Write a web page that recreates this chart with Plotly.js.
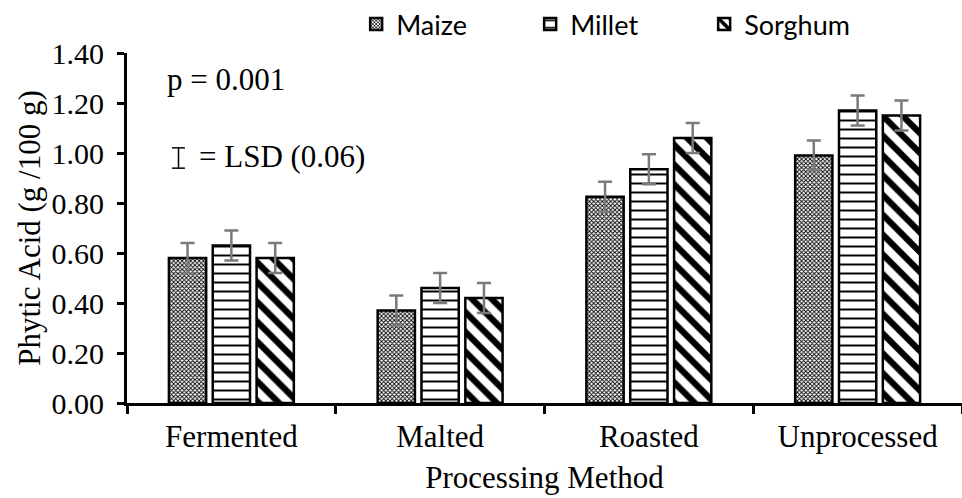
<!DOCTYPE html>
<html><head><meta charset="utf-8">
<script src="https://cdn.plot.ly/plotly-3.0.1.min.js"></script>
<style>html,body{margin:0;padding:0;background:#fff}</style>
</head><body>
<div id="chart" style="width:962px;height:498px"></div>
<script>
const categories = ["Fermented", "Malted", "Roasted", "Unprocessed"];
const maize = [0.58, 0.37, 0.825, 0.99];
const millet = [0.63, 0.46, 0.935, 1.17];
const sorghum = [0.58, 0.42, 1.06, 1.15];
const lsd = 0.06;
const seriesNames = ["Maize", "Millet", "Sorghum"];
const yTicks = [0, 0.2, 0.4, 0.6, 0.8, 1.0, 1.2, 1.4];

function mk(name, vals, shape, size, solidity) {
  return {
    type: "bar", name: name, x: categories, y: vals,
    marker: {color: "#ffffff", line: {color: "#000", width: 2.5},
      pattern: {shape: shape, fgcolor: "#000", bgcolor: "#fff", size: size, solidity: solidity, fillmode: "replace"}},
    error_y: {type: "constant", value: lsd, color: "#7a7a7a", thickness: 2.5, width: 7}
  };
}
const data = [
  mk(seriesNames[0], maize, "x", 3, 0.5),
  mk(seriesNames[1], millet, "-", 9, 0.22),
  mk(seriesNames[2], sorghum, "\\", 14, 0.45)
];
const serif = "Liberation Serif, Times New Roman, serif";
const FS = 31;
const layout = {
  width: 962, height: 498,
  margin: {l: 127, r: 0, t: 53, b: 95},
  paper_bgcolor: "#fff", plot_bgcolor: "#fff",
  barmode: "group", bargap: 0.37, bargroupgap: 0.15,
  showlegend: true,
  legend: {orientation: "h", xref: "paper", x: 0.587, xanchor: "center",
    yref: "container", y: 1.0, yanchor: "top",
    font: {family: "Lato, Open Sans, sans-serif", size: 27, color: "#000"},
    itemwidth: 30, entrywidth: 129, traceorder: "normal", tracegroupgap: 0},
  xaxis: {type: "category", showline: true, linecolor: "#000", linewidth: 3,
    ticks: "outside", tickson: "boundaries", ticklen: 8, tickwidth: 3, tickcolor: "#000",
    showgrid: false, zeroline: false, ticklabelstandoff: 4,
    tickfont: {family: serif, size: FS, color: "#000"},
    title: {text: "Processing Method", font: {family: serif, size: FS, color: "#000"}, standoff: 14}},
  yaxis: {range: [0, 1.4], tickvals: yTicks, ticktext: yTicks.map(v => v.toFixed(2)),
    showline: true, linecolor: "#000", linewidth: 3,
    ticks: "outside", ticklen: 7, tickwidth: 3, tickcolor: "#000",
    showgrid: false, zeroline: false, ticklabelstandoff: 7,
    tickfont: {family: serif, size: 30, color: "#000"},
    title: {text: "Phytic Acid (g /100 g)", font: {family: serif, size: FS, color: "#000"}, standoff: 2}},
  annotations: [
    {xref: "paper", yref: "paper", x: 0.0455, y: 0.923, xanchor: "left", yanchor: "middle",
     text: "p = 0.001", showarrow: false, font: {family: serif, size: FS, color: "#000"}},
    {xref: "paper", yref: "paper", x: 0.0838, y: 0.703, xanchor: "left", yanchor: "middle",
     text: "= LSD (0.06)", showarrow: false, font: {family: serif, size: FS, color: "#000"}}
  ],
  shapes: [
    {type: "line", xref: "paper", yref: "paper", x0: 0.0617, x1: 0.0617, y0: 0.671, y1: 0.729, line: {color: "#000", width: 1.5}},
    {type: "line", xref: "paper", yref: "paper", x0: 0.054, x1: 0.0694, y0: 0.729, y1: 0.729, line: {color: "#000", width: 1.5}},
    {type: "line", xref: "paper", yref: "paper", x0: 0.054, x1: 0.0694, y0: 0.671, y1: 0.671, line: {color: "#000", width: 1.5}}
  ]
};
Plotly.newPlot("chart", data, layout, {displayModeBar: false, staticPlot: true});
</script>
</body></html>
